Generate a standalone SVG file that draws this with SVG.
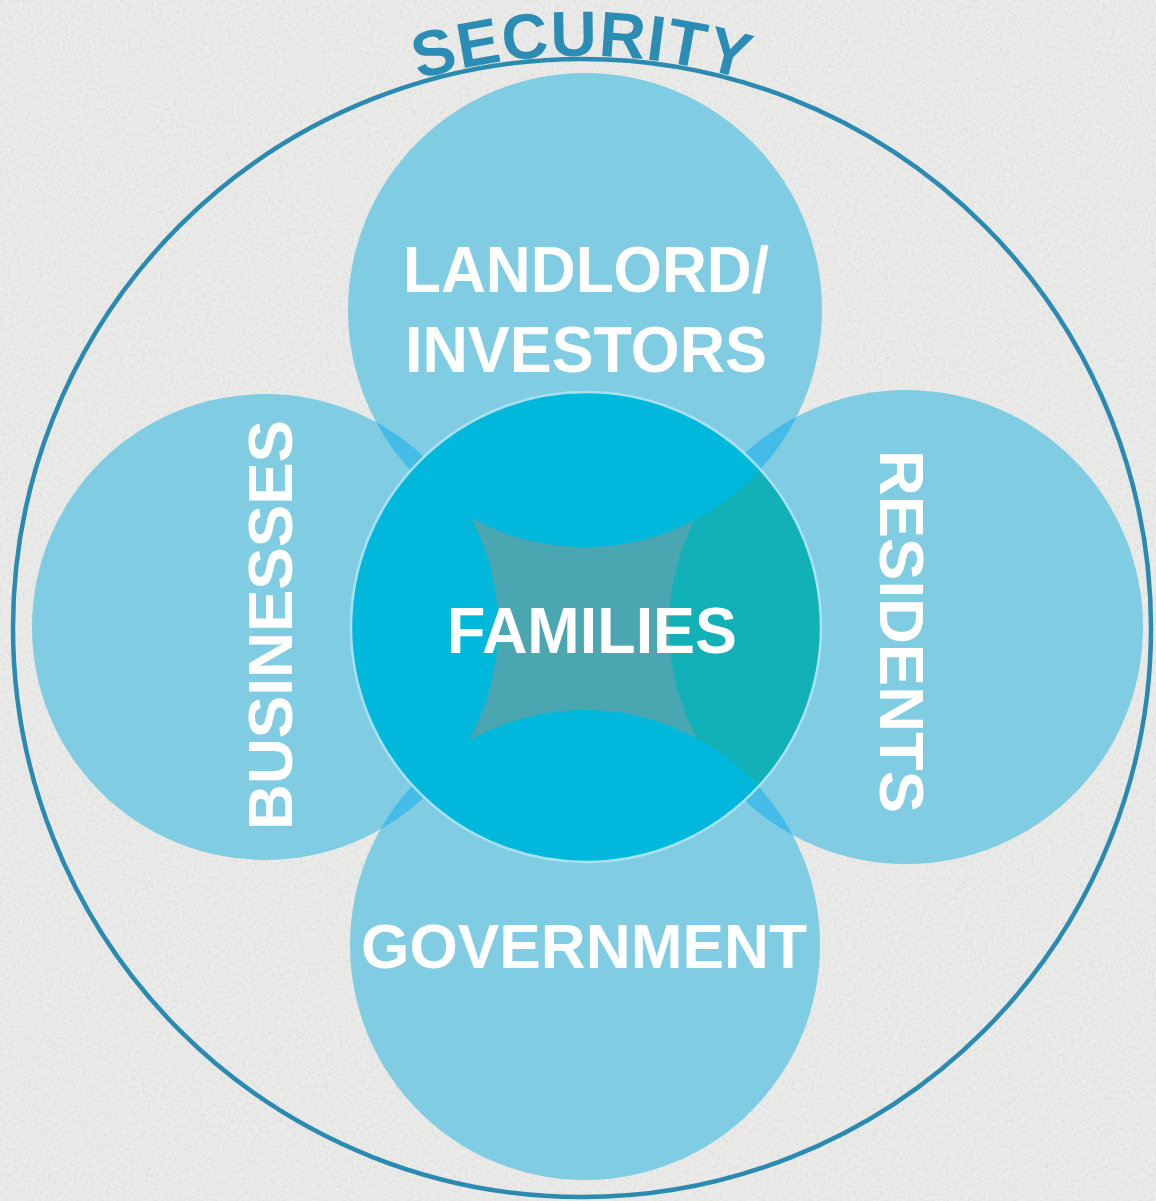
<svg xmlns="http://www.w3.org/2000/svg" width="1156" height="1201" viewBox="0 0 1156 1201">
<style>
.lbl{font-family:"Liberation Sans",Arial,sans-serif;font-weight:bold;fill:#ffffff;}
.outer{fill:#80cde3;}
.lens{fill:#45bbe8;}
.mid{fill:#00b8dc;}
</style>
<defs>
<filter id="paper" x="0" y="0" width="100%" height="100%">
<feTurbulence type="fractalNoise" baseFrequency="0.35" numOctaves="2" seed="4" result="n"/>
<feColorMatrix type="matrix" values="0 0 0 0 0.5  0 0 0 0 0.5  0 0 0 0 0.5  0 0 0 -1.8 1.1"/>
</filter>
<clipPath id="cTop"><circle cx="585" cy="310" r="237"/></clipPath>
<clipPath id="cBot"><circle cx="585" cy="945" r="235"/></clipPath>
<clipPath id="cCen"><circle cx="586" cy="627" r="235"/></clipPath>
<path id="secArc" d="M 214 190 A 572 572 0 0 1 950 190"/>
</defs>

<rect width="1156" height="1201" fill="#ebebea"/>
<rect width="1156" height="1201" filter="url(#paper)" opacity="0.3"/>

<g id="security">
<circle cx="582" cy="628" r="569" fill="none" stroke="#2a8ab0" stroke-width="4.5"/>
<text font-family="Liberation Sans,Arial,sans-serif" font-weight="bold" font-size="64" fill="#2b8db3" letter-spacing="1" text-anchor="middle"><textPath href="#secArc" startOffset="50%">SECURITY</textPath></text>
</g>

<g id="outer-circles">
<circle class="outer" cx="585" cy="310" r="237"/>
<circle class="outer" cx="265" cy="627" r="233"/>
<circle class="outer" cx="906" cy="627" r="237"/>
<circle class="outer" cx="585" cy="945" r="235"/>
<g clip-path="url(#cTop)">
<circle class="lens" cx="265" cy="627" r="233"/>
<circle class="lens" cx="906" cy="627" r="237"/>
</g>
<g clip-path="url(#cBot)">
<circle class="lens" cx="265" cy="627" r="233"/>
<circle class="lens" cx="906" cy="627" r="237"/>
</g>
</g>

<g id="families">
<circle cx="586" cy="627" r="235" fill="#4aa7b2"/>
<g clip-path="url(#cCen)">
<circle class="mid" cx="585" cy="310" r="237"/>
<circle class="mid" cx="265" cy="627" r="233"/>
<circle class="mid" cx="585" cy="945" r="235"/>
<circle fill="#12b1b8" cx="906" cy="627" r="237"/>
<g clip-path="url(#cTop)"><circle class="mid" cx="906" cy="627" r="237"/></g>
<g clip-path="url(#cBot)"><circle class="mid" cx="906" cy="627" r="237"/></g>
</g>
<circle cx="586" cy="627" r="235" fill="none" stroke="#a8e2f2" stroke-width="2.5"/>
<text class="lbl" x="447" y="653" font-size="64" textLength="290" lengthAdjust="spacingAndGlyphs">FAMILIES</text>
</g>

<g id="landlord-investors">
<text class="lbl" x="403" y="292" font-size="65" textLength="366" lengthAdjust="spacingAndGlyphs">LANDLORD/</text>
<text class="lbl" x="405" y="372" font-size="65" textLength="362" lengthAdjust="spacingAndGlyphs">INVESTORS</text>
</g>

<g id="businesses">
<text class="lbl" transform="translate(292,830) rotate(-90)" x="0" y="0" font-size="63" textLength="410" lengthAdjust="spacingAndGlyphs">BUSINESSES</text>
</g>

<g id="residents">
<text class="lbl" transform="translate(880,450) rotate(90)" x="0" y="0" font-size="63" textLength="363" lengthAdjust="spacingAndGlyphs">RESIDENTS</text>
</g>

<g id="government">
<text class="lbl" x="361" y="968" font-size="63" textLength="446" lengthAdjust="spacingAndGlyphs">GOVERNMENT</text>
</g>

<g id="connectors"/>
</svg>
